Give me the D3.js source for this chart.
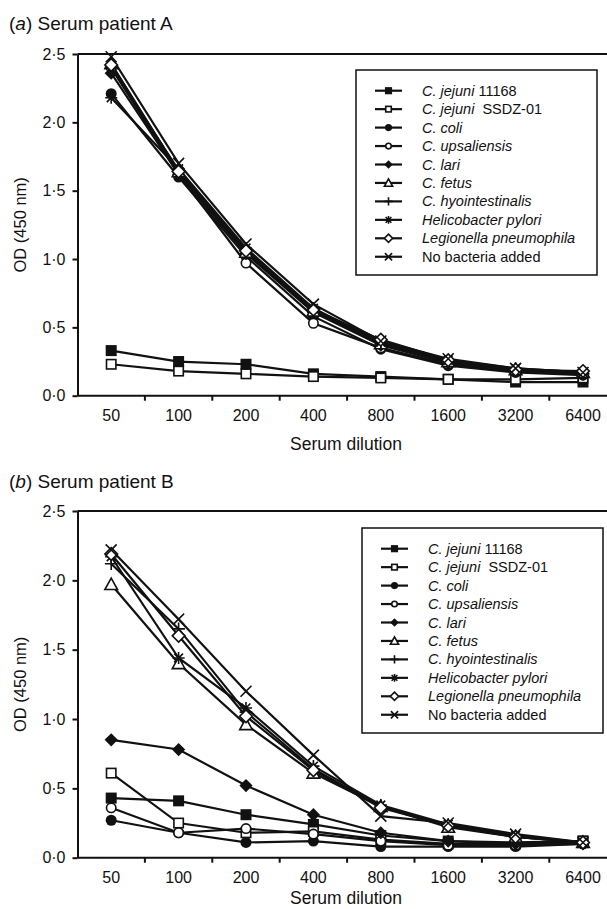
<!DOCTYPE html>
<html>
<head>
<meta charset="utf-8">
<script src="https://cdn.jsdelivr.net/npm/d3@7"></script>
<style>
  body { margin: 0; background: #fff; }
  svg { display: block; font-family: "Liberation Sans", Arial, sans-serif; }
  .axis path, .axis line { stroke: #111; stroke-width: 2; }
</style>
</head>
<body>
<svg id="chart" width="607" height="909"></svg>
<script>
// serum dilutions (x categories)
var dilutions = ["50", "100", "200", "400", "800", "1600", "3200", "6400"];
var yTicks = [0, 0.5, 1, 1.5, 2, 2.5];

// legend entries: italic part, plain part
var seriesNames = [
  ["C. jejuni", " 11168"],
  ["C. jejuni", "  SSDZ-01"],
  ["C. coli", ""],
  ["C. upsaliensis", ""],
  ["C. lari", ""],
  ["C. fetus", ""],
  ["C. hyointestinalis", ""],
  ["Helicobacter pylori", ""],
  ["Legionella pneumophila", ""],
  ["", "No bacteria added"]
];
var markers = ["sqFilled", "sqOpen", "circFilled", "circOpen", "diamFilled",
               "triOpen", "plus", "star", "diamOpen", "cross"];

// OD (450 nm), one row per series
var patientA = [
  [0.33, 0.25, 0.23, 0.16, 0.14, 0.12, 0.10, 0.10],
  [0.23, 0.18, 0.16, 0.14, 0.13, 0.12, 0.12, 0.13],
  [2.21, 1.60, 1.02, 0.58, 0.34, 0.22, 0.17, 0.15],
  [2.40, 1.62, 0.97, 0.53, 0.35, 0.23, 0.18, 0.16],
  [2.36, 1.62, 1.04, 0.61, 0.37, 0.24, 0.18, 0.16],
  [2.43, 1.64, 1.05, 0.62, 0.38, 0.25, 0.19, 0.17],
  [2.40, 1.65, 1.06, 0.63, 0.38, 0.24, 0.18, 0.16],
  [2.18, 1.66, 1.08, 0.64, 0.39, 0.26, 0.20, 0.17],
  [2.42, 1.64, 1.06, 0.63, 0.41, 0.26, 0.19, 0.18],
  [2.48, 1.70, 1.11, 0.67, 0.40, 0.27, 0.20, 0.17]
];
var patientB = [
  [0.43, 0.41, 0.31, 0.24, 0.16, 0.12, 0.11, 0.12],
  [0.61, 0.25, 0.18, 0.19, 0.13, 0.10, 0.10, 0.12],
  [0.27, 0.18, 0.11, 0.12, 0.08, 0.08, 0.08, 0.10],
  [0.36, 0.18, 0.21, 0.17, 0.12, 0.09, 0.09, 0.10],
  [0.85, 0.78, 0.52, 0.31, 0.18, 0.12, 0.10, 0.10],
  [1.97, 1.40, 0.96, 0.61, 0.37, 0.22, 0.15, 0.11],
  [2.12, 1.65, 1.05, 0.64, 0.37, 0.23, 0.15, 0.11],
  [2.17, 1.44, 1.08, 0.66, 0.38, 0.24, 0.16, 0.11],
  [2.19, 1.60, 1.02, 0.63, 0.36, 0.23, 0.15, 0.11],
  [2.22, 1.72, 1.20, 0.74, 0.30, 0.25, 0.17, 0.11]
];

var svg = d3.select("#chart");

var x = d3.scaleBand().domain(dilutions).range([77.5, 77.5 + 8 * 67.4]);

// draw one marker of a given type, s = scale
function drawMarker(g, type, s) {
  var r = 5.5 * s;
  var sw = 1.6;
  if (type == "sqFilled") {
    g.append("rect").attr("x", -r).attr("y", -r).attr("width", 2 * r).attr("height", 2 * r).attr("fill", "#111");
  } else if (type == "sqOpen") {
    g.append("rect").attr("x", -r + 0.8).attr("y", -r + 0.8).attr("width", 2 * r - 1.6).attr("height", 2 * r - 1.6)
      .attr("fill", "#fff").attr("stroke", "#111").attr("stroke-width", sw);
  } else if (type == "circFilled") {
    g.append("circle").attr("r", r).attr("fill", "#111");
  } else if (type == "circOpen") {
    g.append("circle").attr("r", r - 0.8).attr("fill", "#fff").attr("stroke", "#111").attr("stroke-width", sw);
  } else if (type == "diamFilled") {
    var d = r * 1.2;
    g.append("path").attr("d", "M0," + (-d) + "L" + d + ",0L0," + d + "L" + (-d) + ",0Z").attr("fill", "#111");
  } else if (type == "diamOpen") {
    var d2 = r * 1.15;
    g.append("path").attr("d", "M0," + (-d2) + "L" + d2 + ",0L0," + d2 + "L" + (-d2) + ",0Z")
      .attr("fill", "#fff").attr("stroke", "#111").attr("stroke-width", sw);
  } else if (type == "triOpen") {
    var t = r * 1.15;
    g.append("path").attr("d", "M0," + (-t) + "L" + t + "," + (t * 0.8) + "L" + (-t) + "," + (t * 0.8) + "Z")
      .attr("fill", "#fff").attr("stroke", "#111").attr("stroke-width", sw);
  } else if (type == "plus") {
    var p = r * 1.15;
    g.append("path").attr("d", "M" + (-p) + ",0L" + p + ",0M0," + (-p) + "L0," + p)
      .attr("stroke", "#111").attr("stroke-width", sw);
  } else if (type == "star") {
    var a = r * 1.1, b = r * 0.8;
    g.append("path").attr("d", "M" + (-a) + ",0L" + a + ",0M0," + (-a) + "L0," + a +
        "M" + (-b) + "," + (-b) + "L" + b + "," + b + "M" + (-b) + "," + b + "L" + b + "," + (-b))
      .attr("stroke", "#111").attr("stroke-width", sw);
  } else if (type == "cross") {
    var c = r;
    g.append("path").attr("d", "M" + (-c) + "," + (-c) + "L" + c + "," + c + "M" + (-c) + "," + c + "L" + c + "," + (-c))
      .attr("stroke", "#111").attr("stroke-width", sw);
  }
}

function drawPanel(p) {
  var y = d3.scaleLinear().domain([0, 2.5]).range([p.bottom, p.top]);
  var g = svg.append("g");

  // title
  var title = g.append("text").attr("x", 9).attr("y", p.titleY)
      .attr("font-size", 19).attr("fill", "#111");
  title.append("tspan").text("(");
  title.append("tspan").attr("font-style", "italic").text(p.letter);
  title.append("tspan").text(") Serum patient " + p.name);

  // frame top line (right side runs off the page)
  g.append("line").attr("x1", x.range()[0]).attr("x2", x.range()[1])
      .attr("y1", p.top).attr("y2", p.top).attr("stroke", "#111").attr("stroke-width", 2);

  // y axis
  var yAxis = g.append("g").attr("class", "axis")
      .attr("transform", "translate(" + x.range()[0] + ",0)")
      .call(d3.axisLeft(y).tickValues(yTicks).tickSize(5).tickSizeOuter(0)
        .tickFormat(function (d) { return d3.format(".1f")(d).replace(".", "\u00b7"); }));
  yAxis.selectAll("text").attr("font-size", 16).attr("fill", "#111")
      .attr("font-family", "Liberation Sans, Arial, sans-serif").attr("x", -12);

  // x axis: ticks between categories
  var xAxis = g.append("g").attr("class", "axis")
      .attr("transform", "translate(0," + p.bottom + ")");
  xAxis.append("line").attr("x1", x.range()[0]).attr("x2", x.range()[1]);
  xAxis.selectAll(".tk").data(dilutions.slice(1)).enter().append("line")
      .attr("x1", d => x(d)).attr("x2", d => x(d)).attr("y1", 0).attr("y2", 5);
  xAxis.selectAll(".lbl").data(dilutions).enter().append("text")
      .attr("x", d => x(d) + x.bandwidth() / 2).attr("y", 25)
      .attr("text-anchor", "middle").attr("font-size", 16).attr("fill", "#111")
      .text(d => d);

  g.append("text").attr("x", 346).attr("y", p.xLabelY).attr("text-anchor", "middle")
      .attr("font-size", 17.5).attr("fill", "#111").text("Serum dilution");

  g.append("text").attr("transform", "translate(26," + ((p.top + p.bottom) / 2) + ")rotate(-90)")
      .attr("text-anchor", "middle").attr("font-size", 16.5).attr("fill", "#111").text("OD (450 nm)");

  // lines
  var line = d3.line().x((d, i) => x(dilutions[i]) + x.bandwidth() / 2).y(d => y(d));
  p.values.forEach(function (vals, si) {
    g.append("path").datum(vals).attr("d", line)
      .attr("fill", "none").attr("stroke", "#111").attr("stroke-width", 2.2);
  });
  p.values.forEach(function (vals, si) {
    vals.forEach(function (v, i) {
      var m = g.append("g").attr("transform",
        "translate(" + (x(dilutions[i]) + x.bandwidth() / 2) + "," + y(v) + ")");
      drawMarker(m, markers[si], 1);
    });
  });

  // legend
  var lg = g.append("g");
  lg.append("rect").attr("x", p.lx).attr("y", p.ly).attr("width", 241).attr("height", 205)
      .attr("fill", "#fff").attr("stroke", "#111").attr("stroke-width", 1.5);
  seriesNames.forEach(function (nm, i) {
    var ry = p.ly + 20.7 + i * 18.45;
    lg.append("line").attr("x1", p.lx + 19).attr("x2", p.lx + 46).attr("y1", ry).attr("y2", ry)
      .attr("stroke", "#111").attr("stroke-width", 2.2);
    var m = lg.append("g").attr("transform", "translate(" + (p.lx + 32.5) + "," + ry + ")");
    drawMarker(m, markers[i], 0.65);
    var t = lg.append("text").attr("x", p.lx + 66).attr("y", ry).attr("dy", "0.35em")
      .attr("font-size", 14.5).attr("fill", "#111").attr("xml:space", "preserve");
    if (nm[0]) t.append("tspan").attr("font-style", "italic").text(nm[0]);
    if (nm[1]) t.append("tspan").text(nm[1]);
  });
}

drawPanel({letter: "a", name: "A", values: patientA, top: 54, bottom: 395.7,
           titleY: 30, xLabelY: 450, lx: 356, ly: 70});
drawPanel({letter: "b", name: "B", values: patientB, top: 511, bottom: 857.7,
           titleY: 488, xLabelY: 904, lx: 362, ly: 528});
</script>
</body>
</html>
